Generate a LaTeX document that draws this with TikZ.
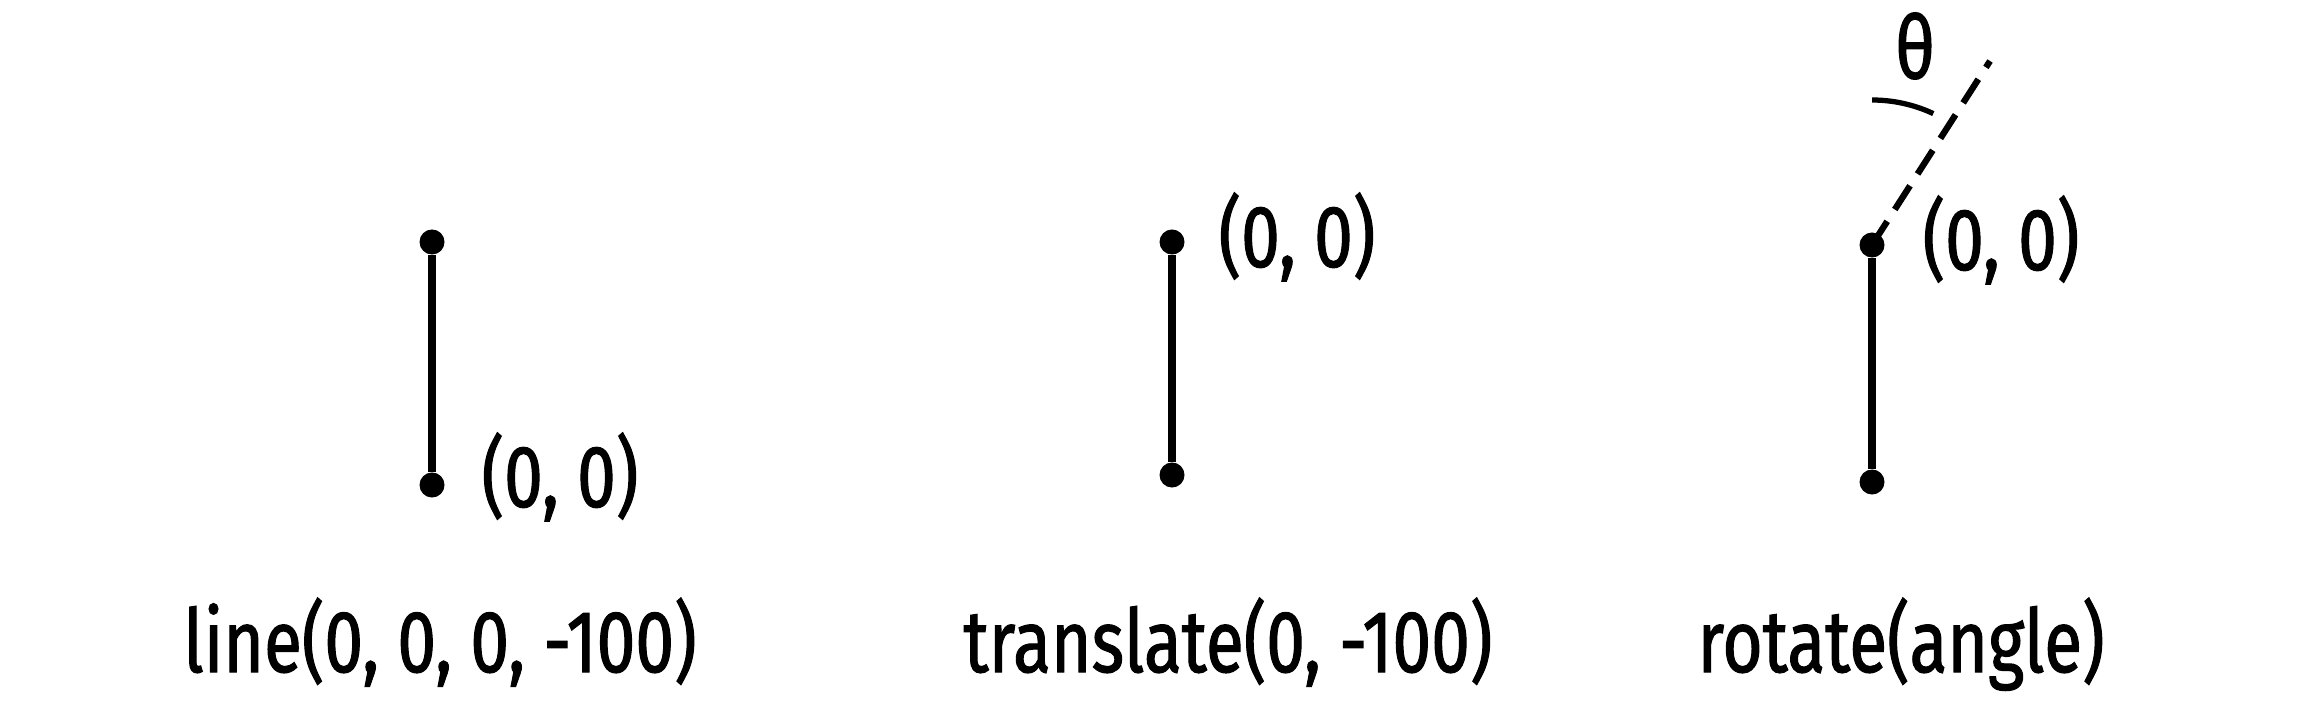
\documentclass[tikz,border=0pt]{standalone}
\usepackage{fontspec}
\newfontfamily\hand[FakeStretch=0.79,FakeBold=1.2]{Fira Sans}
\usetikzlibrary{calc}
\begin{document}
\begin{tikzpicture}[x=0.01cm,y=0.01cm,
  dot/.style={circle,fill=black,inner sep=0pt,minimum size=0.25cm},
  stem/.style={line width=2.3pt,black},
  dashline/.style={line width=1.8pt,dash pattern=on 8pt off 4pt},
  lbl/.style={font=\hand\fontsize{25}{30}\selectfont,inner sep=0pt},
  caption/.style={lbl,anchor=base}]
\useasboundingbox (0,0) rectangle (2304,712);
% panel 1
\node[dot] (t1) at (432,470) {};
\node[dot] (b1) at (432,227) {};
\draw[stem] (t1) -- (b1);
\node[lbl] (o1) at (560,235) {(0, 0)};
\node[caption] (c1) at (440,40) {line(0, 0, 0, -100)};
% panel 2
\node[dot] (t2) at (1172,470) {};
\node[dot] (b2) at (1172,237) {};
\draw[stem] (t2) -- (b2);
\node[lbl] (o2) at (1297,475) {(0, 0)};
\node[caption] (c2) at (1228,40) {translate(0, -100)};
% panel 3
\node[dot] (t3) at (1872,467) {};
\node[dot] (b3) at (1872,230) {};
\draw[stem] (t3) -- (b3);
\coordinate (e3) at (1990,651);
\draw[dashline] (t3.center) -- (e3);
\draw[line width=1.5pt] ($(t3.center)+(90:145)$) arc[start angle=90,end angle=65,radius=145];
\node[lbl] (th) at (1915,666) {θ};
\node[lbl] (o3) at (2001,472) {(0, 0)};
\node[caption] (c3) at (1901,40) {rotate(angle)};
\end{tikzpicture}
\end{document}
